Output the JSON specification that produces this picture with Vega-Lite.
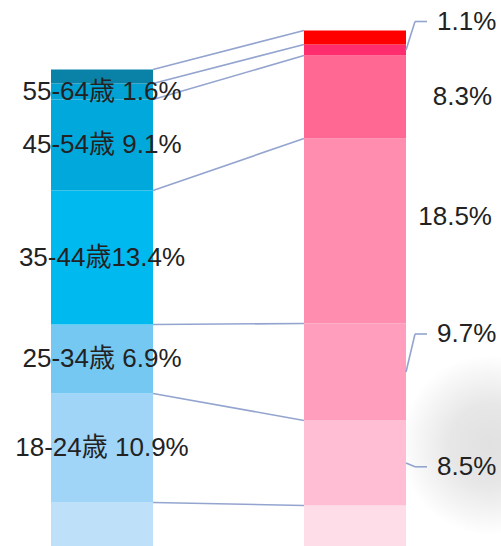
{
  "$schema": "https://vega.github.io/schema/vega-lite/v6.json",
  "width": 501,
  "height": 546,
  "autosize": {"type": "none"},
  "padding": 0,
  "background": "#ffffff",
  "config": {"view": {"stroke": null}},
  "datasets": {
    "seg": [
      {"g": "A", "o": 0, "age": "<18", "key": "A|<18", "value": 4.75},
      {"g": "A", "o": 1, "age": "18-24", "key": "A|18-24", "value": 10.9, "label": "18-24歳 10.9%"},
      {"g": "A", "o": 2, "age": "25-34", "key": "A|25-34", "value": 6.9, "label": "25-34歳 6.9%"},
      {"g": "A", "o": 3, "age": "35-44", "key": "A|35-44", "value": 13.4, "label": "35-44歳13.4%"},
      {"g": "A", "o": 4, "age": "45-54", "key": "A|45-54", "value": 9.1, "label": "45-54歳 9.1%"},
      {"g": "A", "o": 5, "age": "55-64", "key": "A|55-64", "value": 1.6, "label": "55-64歳 1.6%"},
      {"g": "A", "o": 6, "age": "65+", "key": "A|65+", "value": 1.4},
      {"g": "B", "o": 0, "age": "<18", "key": "B|<18", "value": 4.45},
      {"g": "B", "o": 1, "age": "18-24", "key": "B|18-24", "value": 8.5, "label": "8.5%", "ly": 8.32, "leader": true},
      {"g": "B", "o": 2, "age": "25-34", "key": "B|25-34", "value": 9.7, "label": "9.7%", "ly": 21.6, "leader": true},
      {"g": "B", "o": 3, "age": "35-44", "key": "B|35-44", "value": 18.5, "label": "18.5%", "ly": 33.3},
      {"g": "B", "o": 4, "age": "45-54", "key": "B|45-54", "value": 8.3, "label": "8.3%", "ly": 45.3},
      {"g": "B", "o": 5, "age": "55-64", "key": "B|55-64", "value": 1.1, "label": "1.1%", "ly": 52.85, "leader": true},
      {"g": "B", "o": 6, "age": "65+", "key": "B|65+", "value": 1.4}
    ]
  },
  "layer": [
    {
      "data": {"values": [{"deco": "shadow"}]},
      "mark": {
        "type": "rect",
        "fill": {
          "gradient": "radial",
          "x1": 0.5, "y1": 0.5, "r1": 0,
          "x2": 0.5, "y2": 0.5, "r2": 0.5,
          "stops": [
            {"offset": 0, "color": "#e1e1e1"},
            {"offset": 0.45, "color": "#e7e7e7"},
            {"offset": 0.8, "color": "#f6f6f6"},
            {"offset": 1, "color": "#ffffff"}
          ]
        }
      },
      "encoding": {
        "x": {"datum": 2.941, "type": "quantitative", "scale": {"domain": [0, 1, 2, 3], "range": [51, 153, 304, 406], "nice": false, "zero": false}, "axis": null},
        "x2": {"datum": 4.706},
        "y": {"datum": 1.5, "type": "quantitative", "scale": {"domain": [0.4, 55], "range": [546, 0], "nice": false, "zero": false, "clamp": true}, "axis": null},
        "y2": {"datum": 19.5}
      }
    },
    {
      "data": {"name": "seg"},
      "transform": [
        {"stack": "value", "groupby": ["g"], "sort": [{"field": "o", "order": "ascending"}], "as": ["v0", "v1"]},
        {"pivot": "g", "value": "v1", "groupby": ["o"]}
      ],
      "mark": {"type": "rule", "color": "#93A4CF", "strokeWidth": 1.6},
      "encoding": {
        "x": {"datum": 1, "type": "quantitative", "axis": null},
        "x2": {"datum": 2},
        "y": {"field": "A", "type": "quantitative", "axis": null},
        "y2": {"field": "B"}
      }
    },
    {
      "data": {"name": "seg"},
      "transform": [
        {"stack": "value", "groupby": ["g"], "sort": [{"field": "o", "order": "ascending"}], "as": ["v0", "v1"]},
        {"filter": "datum.g === 'A'"}
      ],
      "mark": {"type": "rect"},
      "encoding": {
        "x": {"datum": 0, "type": "quantitative", "axis": null},
        "x2": {"datum": 1},
        "y": {"field": "v0", "type": "quantitative", "axis": null},
        "y2": {"field": "v1"},
        "color": {
          "field": "key", "type": "nominal", "legend": null,
          "scale": {
            "domain": ["A|<18", "A|18-24", "A|25-34", "A|35-44", "A|45-54", "A|55-64", "A|65+", "B|<18", "B|18-24", "B|25-34", "B|35-44", "B|45-54", "B|55-64", "B|65+"],
            "range": ["#BFE0F9", "#A0D5F7", "#74C8F2", "#00B9EF", "#00A8DC", "#02A2D5", "#0A82A7", "#FFDDE8", "#FFBED3", "#FF9FBD", "#FF8DB0", "#FF6892", "#FF2C6E", "#FF0000"]
          }
        }
      }
    },
    {
      "data": {"name": "seg"},
      "transform": [
        {"stack": "value", "groupby": ["g"], "sort": [{"field": "o", "order": "ascending"}], "as": ["v0", "v1"]},
        {"filter": "datum.g === 'B'"}
      ],
      "mark": {"type": "rect"},
      "encoding": {
        "x": {"datum": 2, "type": "quantitative", "axis": null},
        "x2": {"datum": 3},
        "y": {"field": "v0", "type": "quantitative", "axis": null},
        "y2": {"field": "v1"},
        "color": {"field": "key", "type": "nominal", "legend": null}
      }
    },
    {
      "data": {"name": "seg"},
      "transform": [
        {"stack": "value", "groupby": ["g"], "sort": [{"field": "o", "order": "ascending"}], "as": ["v0", "v1"]},
        {"filter": "datum.g === 'A' && datum.label"},
        {"fold": ["v0", "v1"], "as": ["bk", "bv"]},
        {"aggregate": [{"op": "mean", "field": "bv", "as": "mid"}], "groupby": ["o", "label"]}
      ],
      "mark": {"type": "text", "font": "'Liberation Sans', 'Noto Sans CJK JP', sans-serif", "fontSize": 26, "color": "#222222", "align": "center", "baseline": "middle"},
      "encoding": {
        "x": {"datum": 0.5, "type": "quantitative", "axis": null},
        "y": {"field": "mid", "type": "quantitative", "axis": null},
        "text": {"field": "label"}
      }
    },
    {
      "data": {"name": "seg"},
      "transform": [
        {"filter": "datum.g === 'B' && datum.label && !datum.leader"}
      ],
      "mark": {"type": "text", "font": "'Liberation Sans', 'Noto Sans CJK JP', sans-serif", "fontSize": 26, "color": "#222222", "align": "right", "baseline": "middle", "xOffset": 86},
      "encoding": {
        "x": {"datum": 3, "type": "quantitative", "axis": null},
        "y": {"field": "ly", "type": "quantitative", "axis": null},
        "text": {"field": "label"}
      }
    },
    {
      "data": {"name": "seg"},
      "transform": [
        {"stack": "value", "groupby": ["g"], "sort": [{"field": "o", "order": "ascending"}], "as": ["v0", "v1"]},
        {"filter": "datum.leader"},
        {"fold": ["v0", "v1"], "as": ["bk", "bv"]},
        {"aggregate": [{"op": "mean", "field": "bv", "as": "mid"}], "groupby": ["o", "label", "ly"]}
      ],
      "layer": [
        {
          "mark": {"type": "rule", "color": "#93A4CF", "strokeWidth": 1.6, "x2Offset": 9},
          "encoding": {
            "x": {"datum": 3, "type": "quantitative", "axis": null},
            "x2": {"datum": 3},
            "y": {"field": "mid", "type": "quantitative", "axis": null},
            "y2": {"field": "ly"}
          }
        },
        {
          "mark": {"type": "rule", "color": "#93A4CF", "strokeWidth": 1.6, "xOffset": 9, "x2Offset": 21},
          "encoding": {
            "x": {"datum": 3, "type": "quantitative", "axis": null},
            "x2": {"datum": 3},
            "y": {"field": "ly", "type": "quantitative", "axis": null}
          }
        },
        {
          "mark": {"type": "text", "font": "'Liberation Sans', 'Noto Sans CJK JP', sans-serif", "fontSize": 26, "color": "#222222", "align": "left", "baseline": "middle", "xOffset": 31},
          "encoding": {
            "x": {"datum": 3, "type": "quantitative", "axis": null},
            "y": {"field": "ly", "type": "quantitative", "axis": null},
            "text": {"field": "label"}
          }
        }
      ]
    }
  ]
}
